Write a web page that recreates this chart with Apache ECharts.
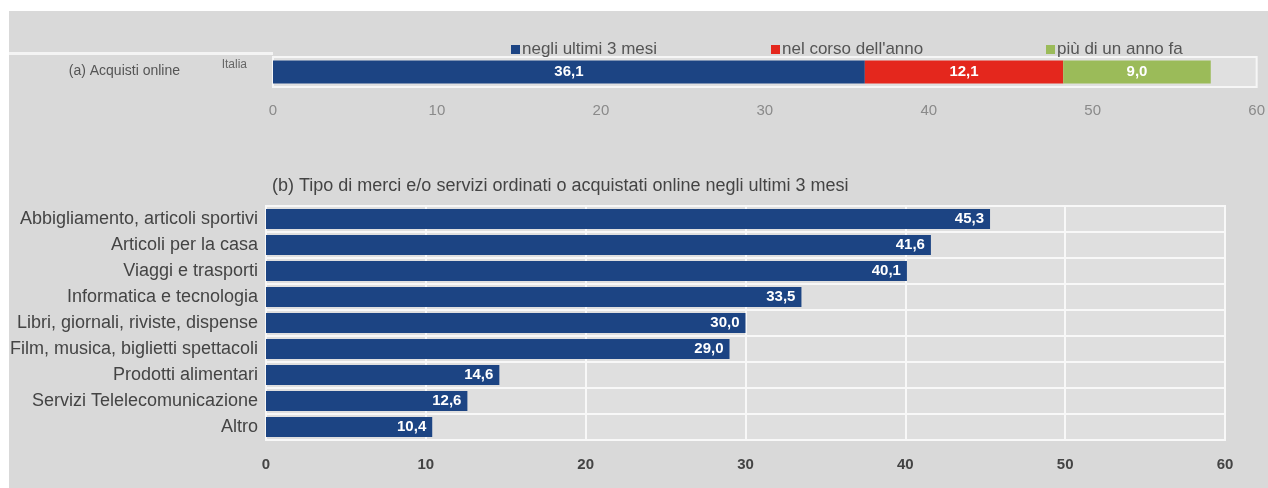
<!DOCTYPE html>
<html>
<head>
<meta charset="utf-8">
<script src="https://cdn.jsdelivr.net/npm/echarts@6/dist/echarts.min.js"></script>
<style>
  html, body { margin: 0; padding: 0; background: #ffffff; }
  #chart { width: 1268px; height: 488px; }
</style>
</head>
<body>
<div id="chart"></div>
<script>
// (a) online purchases in Italy, by time of last purchase
const periods = ['negli ultimi 3 mesi', "nel corso dell'anno", 'più di un anno fa'];
const periodValues = [36.1, 12.1, 9.0];
const periodColors = ['#1c4483', '#e4271d', '#9bbb59'];
const countryLabel = ['Italia'];

// (b) type of goods/services bought online in the last 3 months
const categories = [
  'Abbigliamento, articoli sportivi',
  'Articoli per la casa',
  'Viaggi e trasporti',
  'Informatica e tecnologia',
  'Libri, giornali, riviste, dispense',
  'Film, musica, biglietti spettacoli',
  'Prodotti alimentari',
  'Servizi Telelecomunicazione',
  'Altro'
];
const categoryValues = [45.3, 41.6, 40.1, 33.5, 30.0, 29.0, 14.6, 12.6, 10.4];

const axisTicks = [0, 10, 20, 30, 40, 50, 60];

const fmt = v => v.toFixed(1).replace('.', ',');
const sans = '"Liberation Sans", Arial, sans-serif';

const chart = echarts.init(document.getElementById('chart'), null, { renderer: 'canvas' });

const topSeries = periods.map((name, i) => ({
  name: name,
  type: 'bar',
  stack: 'a',
  xAxisIndex: 0,
  yAxisIndex: 0,
  barWidth: 23,
  data: [periodValues[i]],
  itemStyle: { color: periodColors[i] },
  label: {
    show: true,
    position: 'inside',
    color: '#ffffff',
    fontFamily: sans,
    fontWeight: 'bold',
    fontSize: 15,
    formatter: p => fmt(p.value)
  }
}));

const legendLefts = [506, 766, 1041];

chart.setOption({
  animation: false,
  backgroundColor: 'transparent',
  graphic: [
    { type: 'rect', z: -10, shape: { x: 9, y: 11, width: 1259, height: 477 }, style: { fill: '#d9d9d9' } },
    { type: 'rect', z: -9, shape: { x: 9, y: 52, width: 264, height: 3 }, style: { fill: '#f4f4f4' } },
    {
      type: 'text', right: 1268 - 180, top: 64,
      style: { text: '(a) Acquisti online', fill: '#555555', font: '14px ' + sans }
    },
    {
      type: 'text', left: 272, top: 177,
      style: { text: '(b) Tipo di merci e/o servizi ordinati o acquistati online negli ultimi 3 mesi', fill: '#444444', font: '18px ' + sans }
    }
  ],
  legend: periods.map((name, i) => ({
    data: [name],
    left: legendLefts[i],
    top: 36,
    itemWidth: 9,
    itemHeight: 9,
    itemGap: 2,
    icon: 'rect',
    textStyle: { color: '#555555', fontFamily: sans, fontSize: 17, padding: [0, 0, 0, -3] },
    selectedMode: false
  })),
  grid: [
    {
      left: 273, right: 9, top: 57, height: 30,
      show: true, backgroundColor: '#e0e0e0', borderColor: '#f6f6f6', borderWidth: 2
    },
    {
      left: 266, right: 43, top: 206, bottom: 48,
      show: true, backgroundColor: '#dfdfdf', borderColor: '#f8f8f8', borderWidth: 2
    }
  ],
  xAxis: [
    {
      gridIndex: 0, type: 'value', min: axisTicks[0], max: axisTicks[axisTicks.length - 1], interval: 10,
      axisLine: { show: false }, axisTick: { show: false }, splitLine: { show: false },
      axisLabel: { color: '#8a8a8a', fontFamily: sans, fontSize: 15, margin: 16 }
    },
    {
      gridIndex: 1, type: 'value', min: axisTicks[0], max: axisTicks[axisTicks.length - 1], interval: 10,
      axisLine: { show: false }, axisTick: { show: false },
      splitLine: { show: true, lineStyle: { color: '#f8f8f8', width: 2 } },
      axisLabel: { color: '#444444', fontFamily: sans, fontWeight: 'bold', fontSize: 15, margin: 17 }
    }
  ],
  yAxis: [
    {
      gridIndex: 0, type: 'category', data: countryLabel,
      axisLine: { show: false }, axisTick: { show: false },
      axisLabel: { color: '#666666', fontFamily: sans, fontSize: 12, margin: 26, verticalAlign: 'bottom', lineHeight: 14 }
    },
    {
      gridIndex: 1, type: 'category', data: categories, inverse: true,
      axisLine: { show: false }, axisTick: { show: false },
      splitLine: { show: true, lineStyle: { color: '#f8f8f8', width: 2 } },
      axisLabel: { color: '#444444', fontFamily: sans, fontSize: 18, margin: 8 }
    }
  ],
  series: topSeries.concat([{
    name: 'b',
    type: 'bar',
    xAxisIndex: 1,
    yAxisIndex: 1,
    barWidth: 20,
    data: categoryValues,
    itemStyle: { color: '#1c4483' },
    label: {
      show: true,
      position: 'insideRight',
      distance: 6,
      color: '#ffffff',
      fontFamily: sans,
      fontWeight: 'bold',
      fontSize: 15,
      formatter: p => fmt(p.value)
    }
  }])
});
</script>
</body>
</html>
